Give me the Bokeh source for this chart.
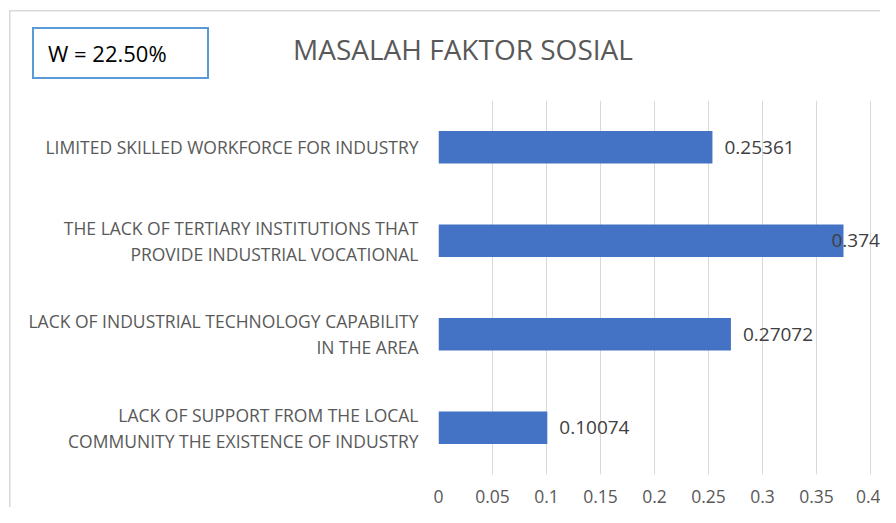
from bokeh.plotting import figure
from bokeh.models import ColumnDataSource, LabelSet, Div, FixedTicker, FactorRange, Range1d
from bokeh.layouts import column
from bokeh.core.properties import value
from bokeh.embed import file_html
from bokeh.resources import INLINE

# ---- data ----
categories = [
    "LIMITED SKILLED WORKFORCE FOR INDUSTRY",
    "THE LACK OF TERTIARY INSTITUTIONS THAT\nPROVIDE INDUSTRIAL VOCATIONAL",
    "LACK OF INDUSTRIAL TECHNOLOGY CAPABILITY\nIN THE AREA",
    "LACK OF SUPPORT FROM THE LOCAL\nCOMMUNITY THE EXISTENCE OF INDUSTRY",
]
values = [0.25361, 0.37493, 0.27072, 0.10074]
value_labels = ["0.25361", "0.37493", "0.27072", "0.10074"]
x_ticks = [0, 0.05, 0.1, 0.15, 0.2, 0.25, 0.3, 0.35, 0.4]
x_tick_labels = ["0", "0.05", "0.1", "0.15", "0.2", "0.25", "0.3", "0.35", "0.4"]
title_text = "MASALAH FAKTOR SOSIAL"
weight_text = "W = 22.50%"

FONT = "Open Sans"
GREY = "#595959"

vmax = max(values)
offsets = [-12 if v == vmax else 12 for v in values]
src = ColumnDataSource(dict(cat=categories, val=values, lab=value_labels, off=offsets))

# ---- header (weight box + title) ----
header = Div(
    width=880, height=100, margin=0,
    text=(
        '<div style="position:relative;width:880px;height:100px;">'
        '<div style="position:absolute;left:32px;top:27px;width:173px;height:48px;'
        'border:2px solid #5B9BD5;box-sizing:content-box;">'
        '<span style="position:absolute;left:14px;top:0;line-height:48px;'
        f'font-family:\'{FONT}\';font-size:22px;color:#000;white-space:nowrap;">{weight_text}</span></div>'
        '<div style="position:absolute;left:293px;top:29px;line-height:40px;'
        f'font-family:\'{FONT}\';font-size:28px;color:{GREY};white-space:nowrap;">{title_text}</div>'
        '</div>'
    ),
)

# ---- chart ----
p = figure(
    width=880, height=407,
    y_range=FactorRange(*list(reversed(categories))),
    x_range=Range1d(0, 0.4092),
    output_backend="svg", toolbar_location=None,
    min_border_left=438, min_border_right=0, min_border_top=0, min_border_bottom=33,
)
p.border_fill_color = None
p.hbar(y="cat", right="val", height=0.35, source=src, color="#4472C4", line_color=None)

p.add_layout(LabelSet(x="val", y="cat", text="lab", source=src, x_offset="off",
                      text_baseline="middle", text_font=value(FONT), text_font_size="19px",
                      text_color="#404040"))

p.xaxis.ticker = FixedTicker(ticks=x_ticks)
p.xaxis.major_label_overrides = {t: l for t, l in zip(x_ticks, x_tick_labels)}
p.xaxis.axis_line_color = None
p.xaxis.major_tick_line_color = None
p.xaxis.minor_tick_line_color = None
p.xaxis.major_label_text_font = FONT
p.xaxis.major_label_text_font_size = "17.5px"
p.xaxis.major_label_text_color = GREY
p.xaxis.major_label_standoff = 9

p.yaxis.axis_line_color = None
p.yaxis.major_tick_line_color = None
p.yaxis.minor_tick_line_color = None
p.yaxis.major_label_text_font = FONT
p.yaxis.major_label_text_font_size = "17.5px"
p.yaxis.major_label_text_color = GREY
p.yaxis.major_label_text_line_height = 1.1
p.yaxis.major_label_standoff = 14

p.xgrid.ticker = FixedTicker(ticks=x_ticks)
p.xgrid.grid_line_color = "#d9d9d9"
p.ygrid.grid_line_color = None
p.outline_line_color = None

layout = column(header, p, spacing=0)
layout.styles = {
    "background": (
        "linear-gradient(#d9d9d9,#d9d9d9) 9px 10px / 1.5px 100% no-repeat, "
        "linear-gradient(#d9d9d9,#d9d9d9) 9px 10px / 100% 1.5px no-repeat, #ffffff"
    )
}

open("out.html", "w").write(file_html(layout, INLINE))
